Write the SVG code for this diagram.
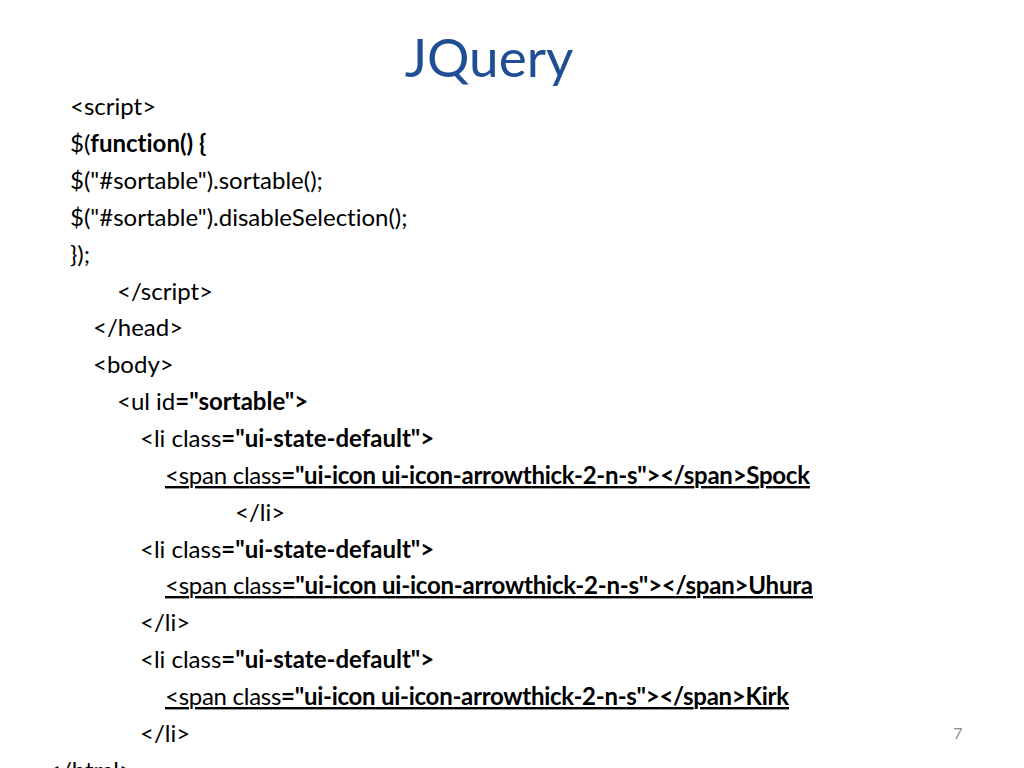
<svg xmlns="http://www.w3.org/2000/svg" width="1024" height="768" viewBox="0 0 1024 768">
<style>
.t{font-family:Lato,"Open Sans","Liberation Sans",sans-serif;font-size:24px;fill:#000;font-variant-ligatures:none}
.b{font-weight:bold}
.u{text-decoration:underline}
.title{font-family:Lato,"Open Sans","Liberation Sans",sans-serif;font-size:53px;fill:#1F4E94}
.pg{font-family:Lato,"Open Sans","Liberation Sans",sans-serif;font-size:16px;fill:#8C8C8C}
</style>
<rect width="1024" height="768" fill="#fff"/>
<g id="title"><text class="title" x="489" y="77" text-anchor="middle">JQuery</text></g>
<g id="code">
<text class="t" x="70" y="115">&lt;script&gt;</text>
<text class="t" x="70" y="152">$(<tspan class="b">function() {</tspan></text>
<text class="t" x="70" y="189">$("#sortable").sortable();</text>
<text class="t" x="70" y="226">$("#sortable").disableSelection();</text>
<text class="t" x="70" y="263">});</text>
<text class="t" x="117" y="300">&lt;/script&gt;</text>
<text class="t" x="93" y="336">&lt;/head&gt;</text>
<text class="t" x="93" y="373">&lt;body&gt;</text>
<text class="t" x="117" y="410">&lt;ul id<tspan class="b">="sortable"&gt;</tspan></text>
<text class="t" x="140" y="447">&lt;li class<tspan class="b">="ui-state-default"&gt;</tspan></text>
<text class="t u" x="165" y="484" textLength="645" lengthAdjust="spacing">&lt;span class<tspan class="b">="ui-icon ui-icon-arrowthick-2-n-s"&gt;&lt;/span&gt;Spock</tspan></text>
<text class="t" x="235" y="521">&lt;/li&gt;</text>
<text class="t" x="140" y="558">&lt;li class<tspan class="b">="ui-state-default"&gt;</tspan></text>
<text class="t u" x="165" y="594" textLength="648" lengthAdjust="spacing">&lt;span class<tspan class="b">="ui-icon ui-icon-arrowthick-2-n-s"&gt;&lt;/span&gt;Uhura</tspan></text>
<text class="t" x="140" y="631">&lt;/li&gt;</text>
<text class="t" x="140" y="668">&lt;li class<tspan class="b">="ui-state-default"&gt;</tspan></text>
<text class="t u" x="165" y="705" textLength="624" lengthAdjust="spacing">&lt;span class<tspan class="b">="ui-icon ui-icon-arrowthick-2-n-s"&gt;&lt;/span&gt;Kirk</tspan></text>
<text class="t" x="140" y="742">&lt;/li&gt;</text>
<text class="t" x="47" y="779">&lt;/html&gt;</text>
</g>
<g id="page"><text class="pg" x="958" y="739" text-anchor="middle">7</text></g>
</svg>
